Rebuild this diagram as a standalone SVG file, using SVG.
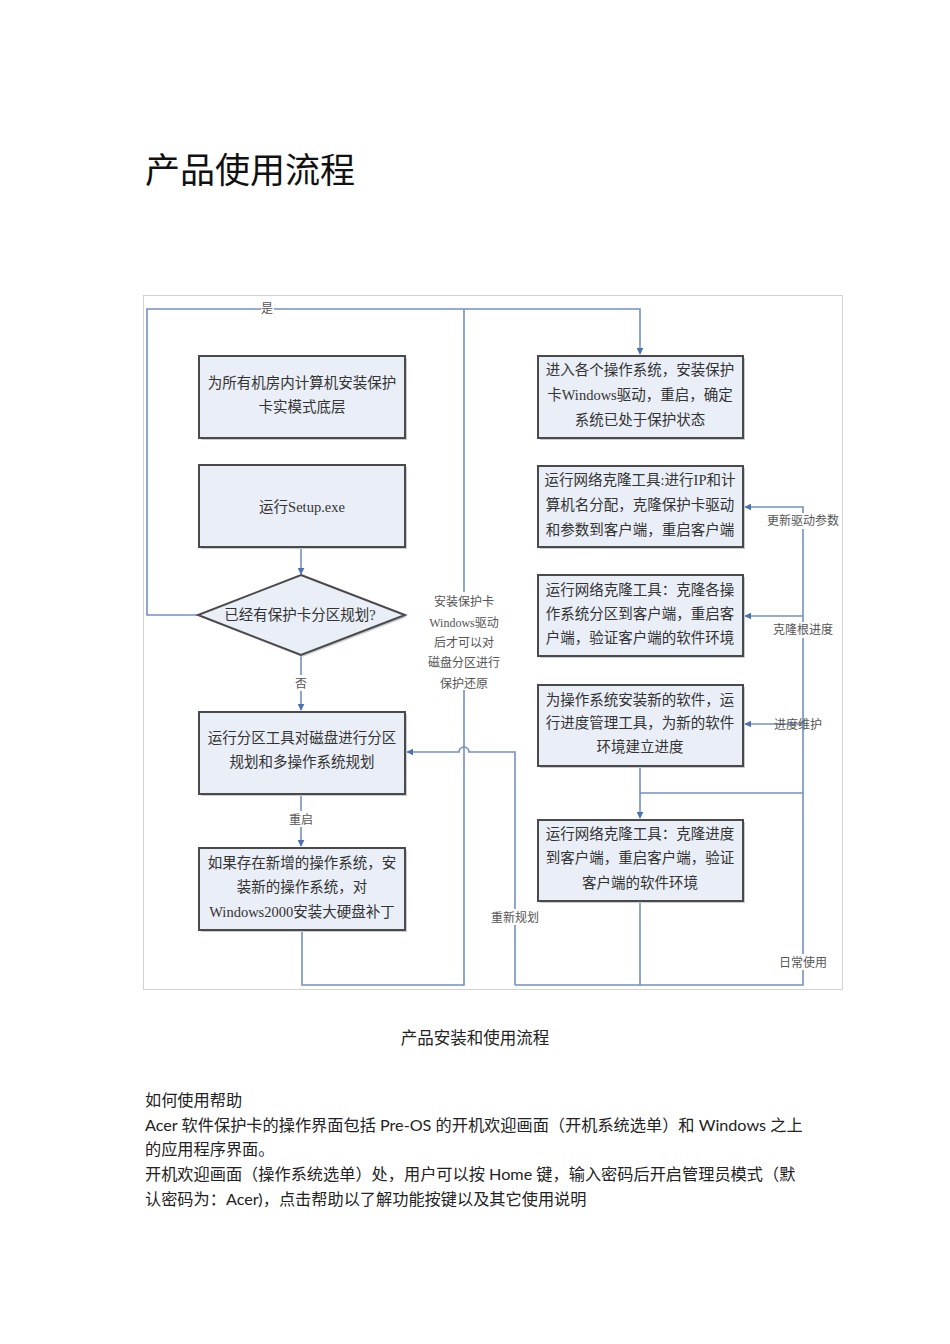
<svg xmlns="http://www.w3.org/2000/svg" width="950" height="1344" viewBox="0 0 950 1344">
<style>
.box{fill:#e9eef7;stroke:#4a4a4a;stroke-width:2}
.sh{fill:#c8ccd4}
.bt{font-family:"Liberation Serif","Noto Sans CJK SC",serif;font-size:14.5px;fill:#333;text-anchor:middle}
.lb{font-family:"Liberation Serif","Noto Sans CJK SC",serif;font-size:12px;fill:#555;text-anchor:middle}
.ln{fill:none;stroke:#7391c2;stroke-width:1.6}
.body{font-family:Lato,"Noto Sans CJK SC",sans-serif;font-size:16.2px;fill:#222}
</style>
<defs>
<marker id="ah" viewBox="0 0 10 10" refX="9" refY="5" markerWidth="7" markerHeight="7" orient="auto" markerUnits="userSpaceOnUse">
<path d="M0,0 L10,5 L0,10 z" fill="#4a72b0"/>
</marker>
</defs>
<rect width="950" height="1344" fill="#fff"/>
<text x="145" y="183" font-family="'Noto Sans CJK SC',sans-serif" font-size="35" fill="#111">产品使用流程</text>
<rect x="143.5" y="295.5" width="699" height="694" fill="none" stroke="#d2d2d2" stroke-width="1"/>

<g id="connectors">
<path class="ln" d="M198,615 H147 V309 H640 V354" marker-end="url(#ah)"/>
<path class="ln" d="M301,548 V574" marker-end="url(#ah)"/>
<path class="ln" d="M301,656 V710" marker-end="url(#ah)"/>
<path class="ln" d="M301,795 V846" marker-end="url(#ah)"/>
<path class="ln" d="M302,931 V985 H464 V309"/>
<path class="ln" d="M515,985 V752 H469 A5,5 0 0 0 459,752 H407" marker-end="url(#ah)"/>
<path class="ln" d="M515,985 H803 V507 H745" marker-end="url(#ah)"/>
<path class="ln" d="M803,616 H745" marker-end="url(#ah)"/>
<path class="ln" d="M803,724 H745" marker-end="url(#ah)"/>
<path class="ln" d="M640,767 V818" marker-end="url(#ah)"/>
<path class="ln" d="M640,793 H803"/>
<path class="ln" d="M640,902 V985"/>
</g>

<g id="labels">
<rect x="261" y="301" width="13" height="15" fill="#fff"/>
<text class="lb" x="267" y="313">是</text>
<rect x="294" y="675" width="14" height="16" fill="#fff"/>
<text class="lb" x="301" y="688">否</text>
<rect x="288" y="811" width="26" height="16" fill="#fff"/>
<text class="lb" x="301" y="824">重启</text>
<rect x="430" y="592" width="70" height="98" fill="#fff"/>
<text class="lb" x="464" y="606">安装保护卡</text>
<text class="lb" x="464" y="627">Windows驱动</text>
<text class="lb" x="464" y="647">后才可以对</text>
<text class="lb" x="464" y="667">磁盘分区进行</text>
<text class="lb" x="464" y="688">保护还原</text>
<rect x="489" y="909" width="52" height="16" fill="#fff"/>
<text class="lb" x="515" y="922">重新规划</text>
<rect x="766" y="513" width="74" height="16" fill="#fff"/>
<text class="lb" x="803" y="525">更新驱动参数</text>
<rect x="772" y="622" width="62" height="16" fill="#fff"/>
<text class="lb" x="803" y="634">克隆根进度</text>
<text class="lb" x="798" y="729">进度维护</text>
<rect x="778" y="954" width="50" height="16" fill="#fff"/>
<text class="lb" x="803" y="967">日常使用</text>
</g>

<g id="n1">
<rect class="sh" x="201" y="358" width="206" height="82"/>
<rect class="box" x="199" y="356" width="206" height="82"/>
<text class="bt" x="302" y="388">为所有机房内计算机安装保护</text>
<text class="bt" x="302" y="412">卡实模式底层</text>
</g>
<g id="n2">
<rect class="sh" x="201" y="467" width="206" height="82"/>
<rect class="box" x="199" y="465" width="206" height="82"/>
<text class="bt" x="302" y="512">运行Setup.exe</text>
</g>
<g id="n3">
<polygon points="302,577 407,617 302,657 200,617" fill="#c8ccd4"/>
<polygon class="box" points="301,575 405,615 301,655 198,615"/>
<text class="bt" x="300" y="620">已经有保护卡分区规划?</text>
</g>
<g id="n4">
<rect class="sh" x="201" y="714" width="206" height="82"/>
<rect class="box" x="199" y="712" width="206" height="82"/>
<text class="bt" x="302" y="743">运行分区工具对磁盘进行分区</text>
<text class="bt" x="302" y="767">规划和多操作系统规划</text>
</g>
<g id="n5">
<rect class="sh" x="201" y="850" width="206" height="82"/>
<rect class="box" x="199" y="848" width="206" height="82"/>
<text class="bt" x="302" y="868">如果存在新增的操作系统，安</text>
<text class="bt" x="302" y="892">装新的操作系统，对</text>
<text class="bt" x="302" y="917">Windows2000安装大硬盘补丁</text>
</g>
<g id="r1">
<rect class="sh" x="540" y="358" width="205" height="82"/>
<rect class="box" x="538" y="356" width="205" height="82"/>
<text class="bt" x="640" y="375">进入各个操作系统，安装保护</text>
<text class="bt" x="640" y="400">卡Windows驱动，重启，确定</text>
<text class="bt" x="640" y="425">系统已处于保护状态</text>
</g>
<g id="r2">
<rect class="sh" x="540" y="468" width="205" height="81"/>
<rect class="box" x="538" y="466" width="205" height="81"/>
<text class="bt" x="640" y="485">运行网络克隆工具:进行IP和计</text>
<text class="bt" x="640" y="510">算机名分配，克隆保护卡驱动</text>
<text class="bt" x="640" y="535">和参数到客户端，重启客户端</text>
</g>
<g id="r3">
<rect class="sh" x="540" y="577" width="205" height="81"/>
<rect class="box" x="538" y="575" width="205" height="81"/>
<text class="bt" x="640" y="595">运行网络克隆工具：克隆各操</text>
<text class="bt" x="640" y="619">作系统分区到客户端，重启客</text>
<text class="bt" x="640" y="643">户端，验证客户端的软件环境</text>
</g>
<g id="r4">
<rect class="sh" x="540" y="687" width="205" height="81"/>
<rect class="box" x="538" y="685" width="205" height="81"/>
<text class="bt" x="640" y="705">为操作系统安装新的软件，运</text>
<text class="bt" x="640" y="728">行进度管理工具，为新的软件</text>
<text class="bt" x="640" y="752">环境建立进度</text>
</g>
<g id="r5">
<rect class="sh" x="540" y="822" width="205" height="81"/>
<rect class="box" x="538" y="820" width="205" height="81"/>
<text class="bt" x="640" y="839">运行网络克隆工具：克隆进度</text>
<text class="bt" x="640" y="863">到客户端，重启客户端，验证</text>
<text class="bt" x="640" y="888">客户端的软件环境</text>
</g>

<text x="475" y="1044" text-anchor="middle" font-family="'Noto Sans CJK SC',sans-serif" font-size="16.5" fill="#222">产品安装和使用流程</text>
<g id="body">
<text class="body" x="145" y="1106">如何使用帮助</text>
<text class="body" x="145" y="1131">Acer 软件保护卡的操作界面包括 Pre-OS 的开机欢迎画面（开机系统选单）和 Windows 之上</text>
<text class="body" x="145" y="1155">的应用程序界面。</text>
<text class="body" x="145" y="1180">开机欢迎画面（操作系统选单）处，用户可以按 Home 键，输入密码后开启管理员模式（默</text>
<text class="body" x="145" y="1205">认密码为：Acer)，点击帮助以了解功能按键以及其它使用说明</text>
</g>
</svg>
